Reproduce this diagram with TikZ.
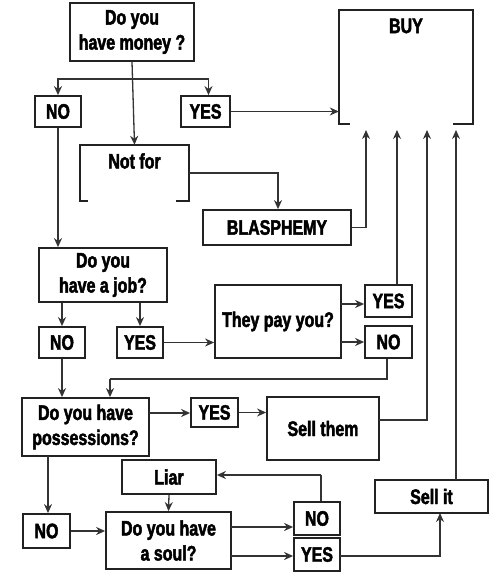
\documentclass[tikz,border=0pt]{standalone}
\usepackage{fontspec}
\setmainfont{Liberation Sans}[FakeStretch=0.76,BoldFeatures={FakeBold=2.2}]
\usetikzlibrary{arrows.meta}
\definecolor{ink}{HTML}{222222}
\definecolor{wire}{HTML}{333333}
\begin{document}
\begin{tikzpicture}[x=1pt,y=-1pt,
  box/.style={draw=ink,line width=1.8pt,inner sep=0pt,align=center,
    font=\fontsize{21}{25}\selectfont\bfseries},
  lbl/.style={inner sep=0pt,align=center,font=\fontsize{21}{25}\selectfont\bfseries},
  arr/.style={draw=wire,line width=1.3pt,-{Stealth[length=9pt,width=8pt]}},
  ln/.style={draw=wire,line width=1.3pt}]
\useasboundingbox (0,0) rectangle (500,585);
% boxes
\node[box,minimum width=124pt,minimum height=58pt] (money) at (132,32) {Do you\\have money ?};
\node[box,minimum width=46pt,minimum height=31pt] (no1) at (58,111.5) {NO};
\node[box,minimum width=49pt,minimum height=31pt] (yes1) at (205.5,111.5) {YES};
\node[inner sep=0pt,minimum width=109pt,minimum height=56pt] (notfor) at (134.5,173) {};
\node[lbl] (notfortxt) at (134.5,161) {Not for};
\draw[ink,line width=1.8pt] (88,201) -- (80,201) -- (80,145) -- (189,145) -- (189,201) -- (176,201);
\node[inner sep=0pt,minimum width=134pt,minimum height=114pt] (buy) at (406,67) {};
\node[lbl] (buytxt) at (406,26) {BUY};
\draw[ink,line width=1.8pt] (350,124) -- (339,124) -- (339,10) -- (473,10) -- (473,124) -- (453,124);
\node[box,minimum width=148pt,minimum height=35pt] (blas) at (277,227.5) {BLASPHEMY};
\node[box,minimum width=128pt,minimum height=54pt] (job) at (103,275) {Do you\\have a job?};
\node[box,minimum width=46pt,minimum height=31pt] (no2) at (62,342.5) {NO};
\node[box,minimum width=46pt,minimum height=31pt] (yes2) at (140,342.5) {YES};
\node[box,minimum width=126pt,minimum height=73pt] (pay) at (278,321.5) {They pay you?};
\node[box,minimum width=47pt,minimum height=32pt] (yes3) at (388.5,301) {YES};
\node[box,minimum width=47pt,minimum height=32pt] (no3) at (388.5,342) {NO};
\node[box,minimum width=127pt,minimum height=58pt] (poss) at (85.5,427) {Do you have\\possessions?};
\node[box,minimum width=47pt,minimum height=29pt] (yes4) at (214.5,412.5) {YES};
\node[box,minimum width=112pt,minimum height=63pt] (sellthem) at (323,428.5) {Sell them};
\node[box,minimum width=94pt,minimum height=34pt] (liar) at (169,477) {Liar};
\node[box,minimum width=113pt,minimum height=33pt] (sellit) at (431.5,496.5) {Sell it};
\node[box,minimum width=47pt,minimum height=34pt] (no4) at (46.5,531) {NO};
\node[box,minimum width=125pt,minimum height=57pt] (soul) at (168.5,540.5) {Do you have\\a soul?};
\node[box,minimum width=46pt,minimum height=33pt] (no5) at (317,518.5) {NO};
\node[box,minimum width=46pt,minimum height=33pt] (yes5) at (317,554.5) {YES};
% coordinates
\coordinate (br) at (132,79);
\coordinate (b1) at (366,130);
\coordinate (b2) at (397,130);
\coordinate (b3) at (427,130);
\coordinate (b4) at (456,130);
\coordinate (j1) at (387,379);
\coordinate (j2) at (110,379);
\coordinate (l1) at (321,475);
\coordinate (py) at (341,304);
\coordinate (pn) at (341,342);
\coordinate (px) at (149,413);
\coordinate (sx) at (379,420);
\coordinate (sn) at (231,527);
\coordinate (sy) at (231,556);
\coordinate (ya) at (340,556);
\coordinate (sa) at (440,513);
\coordinate (sb) at (456,480);
\coordinate (pa) at (48,456);
% connectors
\draw[arr] (money.south) -- (notfor.north);
\draw[arr] (br) -| (no1.north);
\draw[arr] (br) -| ([xshift=3pt]yes1.north);
\draw[arr] (yes1.east) -- (buy.west |- yes1.east);
\draw[arr] (notfor.east) -| ([xshift=1pt]blas.north);
\draw[arr] (blas.east) -| (b1);
\draw[arr] (no1.south) -- (no1.south |- job.north);
\draw[arr] (job.south -| no2.north) -- (no2.north);
\draw[arr] (job.south -| yes2.north) -- (yes2.north);
\draw[arr] (yes2.east) -- (pay.west |- yes2.east);
\draw[arr] (py) -- (py -| yes3.west);
\draw[arr] (pn) -- (pn -| no3.west);
\draw[arr] (yes3.north -| b2) -- (b2);
\draw[ln] (no3.south -| j1) -- (j1) -- (j2);
\draw[arr] (j2) -- (j2 |- poss.north);
\draw[arr] (no2.south) -- (no2.south |- poss.north);
\draw[arr] (px) -- (px -| yes4.west);
\draw[arr] (yes4.east) -- (yes4.east -| sellthem.west);
\draw[arr] (sx) -| (b3);
\draw[arr] (pa) -- (pa |- no4.north);
\draw[arr] (no4.east) -- (no4.east -| soul.west);
\draw[arr] (liar.south) -- (soul.north);
\draw[arr] (sn) -- (sn -| no5.west);
\draw[arr] (sy) -- (sy -| yes5.west);
\draw[ln] (no5.north -| l1) -- (l1);
\draw[arr] (l1) -- (l1 -| liar.east);
\draw[arr] (ya) -| (sa);
\draw[arr] (sb) -- (b4);
\end{tikzpicture}
\end{document}
